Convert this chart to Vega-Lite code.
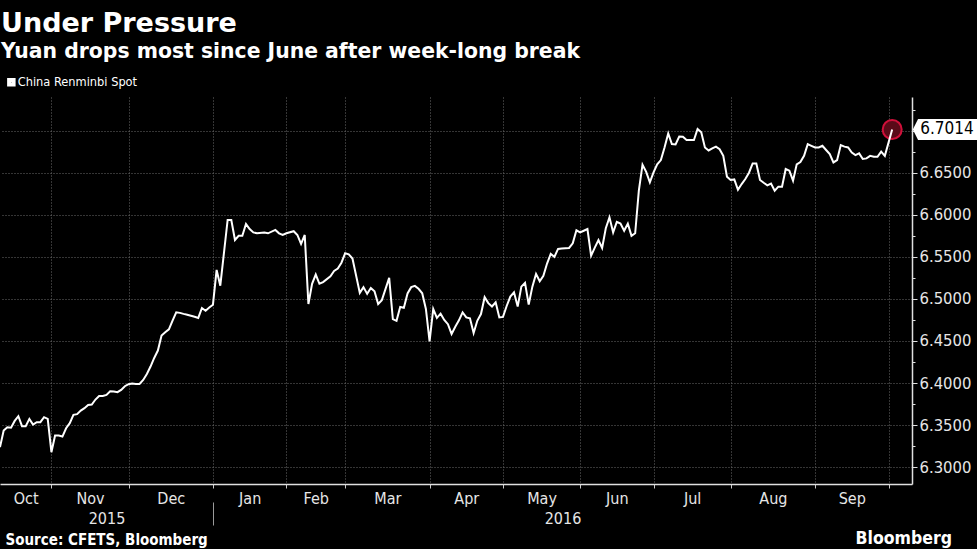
{
  "$schema": "https://vega.github.io/schema/vega-lite/v6.json",
  "width": 912,
  "height": 387,
  "autosize": {"type": "none"},
  "padding": {"left": 0, "top": 97, "right": 65, "bottom": 65},
  "background": "#000000",
  "config": {"view": {"stroke": null}, "font": "DejaVu Sans Condensed"},
  "title": {
    "text": "Under Pressure",
    "subtitle": "Yuan drops most since June after week-long break",
    "anchor": "start",
    "frame": "group",
    "font": "DejaVu Sans",
    "fontSize": 27,
    "fontWeight": "bold",
    "color": "#ffffff",
    "subtitleFont": "DejaVu Sans",
    "subtitleFontSize": 20.4,
    "subtitleFontWeight": "bold",
    "subtitleColor": "#ffffff",
    "subtitlePadding": 4,
    "offset": 13,
    "dx": 1
  },
  "datasets": {
    "cny": [
      {"d":0,"v":6.3238},{"d":1,"v":6.3435},{"d":2,"v":6.3475},{"d":3,"v":6.347},{"d":4,"v":6.355},{"d":5,"v":6.3606},{"d":6,"v":6.3487},{"d":7,"v":6.3487},{"d":8,"v":6.3574},{"d":9,"v":6.3507},
      {"d":10,"v":6.3535},{"d":11,"v":6.3535},{"d":12,"v":6.3594},{"d":13,"v":6.3574},{"d":14,"v":6.3178},{"d":15,"v":6.3376},{"d":16,"v":6.3376},{"d":17,"v":6.3364},{"d":18,"v":6.3463},{"d":19,"v":6.3523},
      {"d":20,"v":6.3622},{"d":21,"v":6.363},{"d":22,"v":6.3673},{"d":23,"v":6.3701},{"d":24,"v":6.374},{"d":25,"v":6.3744},{"d":26,"v":6.3804},{"d":27,"v":6.3847},{"d":28,"v":6.3847},{"d":29,"v":6.3859},
      {"d":30,"v":6.3903},{"d":31,"v":6.3899},{"d":32,"v":6.3891},{"d":33,"v":6.3919},{"d":34,"v":6.3962},{"d":35,"v":6.3986},{"d":36,"v":6.3994},{"d":37,"v":6.399},{"d":38,"v":6.399},{"d":39,"v":6.4037},
      {"d":40,"v":6.4108},{"d":41,"v":6.4196},{"d":42,"v":6.4298},{"d":43,"v":6.4386},{"d":44,"v":6.4564},{"d":45,"v":6.4603},{"d":46,"v":6.4639},{"d":47,"v":6.4742},{"d":48,"v":6.4841},{"d":49,"v":6.4834},
      {"d":50,"v":6.4822},{"d":51,"v":6.4812},{"d":52,"v":6.48},{"d":53,"v":6.4788},{"d":54,"v":6.4774},{"d":55,"v":6.4892},{"d":56,"v":6.486},{"d":57,"v":6.4897},{"d":58,"v":6.4931},{"d":59,"v":6.5344},
      {"d":60,"v":6.5157},{"d":62,"v":6.5938},{"d":63,"v":6.5938},{"d":64,"v":6.57},{"d":65,"v":6.575},{"d":66,"v":6.575},{"d":67,"v":6.589},{"d":68,"v":6.583},{"d":69,"v":6.579},
      {"d":70,"v":6.578},{"d":72,"v":6.579},{"d":73,"v":6.578},{"d":75,"v":6.582},{"d":76,"v":6.578},{"d":77,"v":6.576},{"d":78,"v":6.578},{"d":80,"v":6.5805},{"d":81,"v":6.576},{"d":82,"v":6.5653},
      {"d":83,"v":6.576},{"d":84,"v":6.494},{"d":85,"v":6.518},{"d":86,"v":6.529},{"d":87,"v":6.518},{"d":88,"v":6.52},{"d":90,"v":6.527},{"d":91,"v":6.5333},{"d":92,"v":6.536},{"d":93,"v":6.543},
      {"d":94,"v":6.5542},{"d":95,"v":6.553},{"d":96,"v":6.548},{"d":98,"v":6.5072},{"d":99,"v":6.514},{"d":100,"v":6.506},{"d":101,"v":6.513},{"d":102,"v":6.509},{"d":103,"v":6.494},{"d":104,"v":6.4985},
      {"d":106,"v":6.525},{"d":107,"v":6.476},{"d":108,"v":6.474},{"d":109,"v":6.4905},{"d":110,"v":6.4895},{"d":111,"v":6.5065},{"d":112,"v":6.514},{"d":113,"v":6.5155},{"d":114,"v":6.512},{"d":115,"v":6.5067},
      {"d":116,"v":6.488},{"d":117,"v":6.4496},{"d":118,"v":6.488},{"d":119,"v":6.4775},{"d":120,"v":6.4825},{"d":121,"v":6.475},{"d":122,"v":6.47},{"d":123,"v":6.4584},{"d":124,"v":6.467},{"d":125,"v":6.4745},
      {"d":126,"v":6.484},{"d":127,"v":6.478},{"d":128,"v":6.477},{"d":129,"v":6.4594},{"d":130,"v":6.474},{"d":131,"v":6.482},{"d":132,"v":6.502},{"d":133,"v":6.495},{"d":134,"v":6.491},{"d":135,"v":6.496},
      {"d":136,"v":6.478},{"d":137,"v":6.4786},{"d":138,"v":6.4916},{"d":139,"v":6.5027},{"d":140,"v":6.5078},{"d":141,"v":6.4909},{"d":142,"v":6.5146},{"d":143,"v":6.519},{"d":144,"v":6.4932},{"d":145,"v":6.5146},
      {"d":146,"v":6.5297},{"d":147,"v":6.521},{"d":148,"v":6.5275},{"d":149,"v":6.542},{"d":150,"v":6.5534},{"d":151,"v":6.55},{"d":152,"v":6.5594},{"d":153,"v":6.56},{"d":154,"v":6.5603},{"d":155,"v":6.5606},
      {"d":156,"v":6.566},{"d":157,"v":6.5815},{"d":158,"v":6.579},{"d":159,"v":6.581},{"d":160,"v":6.583},{"d":161,"v":6.5514},{"d":162,"v":6.561},{"d":163,"v":6.57},{"d":164,"v":6.5605},{"d":165,"v":6.584},
      {"d":166,"v":6.597},{"d":167,"v":6.579},{"d":168,"v":6.5915},{"d":169,"v":6.5895},{"d":170,"v":6.581},{"d":171,"v":6.5895},{"d":172,"v":6.575},{"d":173,"v":6.578},{"d":174,"v":6.6286},{"d":175,"v":6.6595},
      {"d":176,"v":6.651},{"d":177,"v":6.6385},{"d":178,"v":6.6505},{"d":179,"v":6.66},{"d":180,"v":6.665},{"d":181,"v":6.68},{"d":182,"v":6.6967},{"d":183,"v":6.684},{"d":184,"v":6.6835},{"d":185,"v":6.693},
      {"d":186,"v":6.6927},{"d":187,"v":6.689},{"d":188,"v":6.6888},{"d":189,"v":6.6888},{"d":190,"v":6.7019},{"d":191,"v":6.698},{"d":192,"v":6.68},{"d":193,"v":6.6765},{"d":194,"v":6.679},{"d":195,"v":6.681},
      {"d":196,"v":6.678},{"d":197,"v":6.67},{"d":198,"v":6.6453},{"d":199,"v":6.6413},{"d":200,"v":6.642},{"d":201,"v":6.6298},{"d":202,"v":6.6365},{"d":203,"v":6.6425},{"d":204,"v":6.65},{"d":205,"v":6.661},
      {"d":206,"v":6.661},{"d":207,"v":6.6413},{"d":208,"v":6.638},{"d":209,"v":6.635},{"d":210,"v":6.637},{"d":211,"v":6.6286},{"d":212,"v":6.6334},{"d":213,"v":6.6334},{"d":214,"v":6.6544},{"d":215,"v":6.6524},
      {"d":216,"v":6.6405},{"d":217,"v":6.66},{"d":218,"v":6.6626},{"d":219,"v":6.6702},{"d":220,"v":6.684},{"d":221,"v":6.682},{"d":222,"v":6.68},{"d":223,"v":6.68},{"d":224,"v":6.682},{"d":225,"v":6.677},
      {"d":226,"v":6.6722},{"d":227,"v":6.6622},{"d":228,"v":6.665},{"d":229,"v":6.6829},{"d":230,"v":6.681},{"d":231,"v":6.68},{"d":232,"v":6.674},{"d":233,"v":6.671},{"d":234,"v":6.673},{"d":235,"v":6.6663},
      {"d":236,"v":6.667},{"d":237,"v":6.67},{"d":238,"v":6.669},{"d":239,"v":6.669},{"d":240,"v":6.675},{"d":241,"v":6.67},{"d":243,"v":6.7014}
    ]
  },
  "data": {"name": "cny"},
  "encoding": {
    "y": {
      "field": "v",
      "type": "quantitative",
      "scale": {"domain": [6.28, 6.74], "zero": false, "nice": false},
      "axis": {
        "orient": "right",
        "values": [6.3, 6.325, 6.35, 6.375, 6.4, 6.425, 6.45, 6.475, 6.5, 6.525, 6.55, 6.575, 6.6, 6.625, 6.65, 6.675, 6.7, 6.725],
        "labelExpr": "abs(datum.value * 20 - round(datum.value * 20)) < 0.01 && datum.value < 6.69 ? format(datum.value, '.4f') : ''",
        "tickSize": {"condition": {"test": "abs(datum.value * 20 - round(datum.value * 20)) > 0.01", "value": 3}, "value": 5},
        "gridOpacity": {"condition": {"test": "abs(datum.value * 20 - round(datum.value * 20)) > 0.01", "value": 0}, "value": 1},
        "grid": true,
        "gridColor": "#6a6a6a",
        "gridDash": [1, 2],
        "gridWidth": 1,
        "tickColor": "#e0e0e0",
        "domainColor": "#e0e0e0",
        "domainWidth": 1.5,
        "labelFont": "DejaVu Sans Condensed",
        "labelFontSize": 16.5,
        "labelColor": "#e6e6e6",
        "labelPadding": 2,
        "labelOverlap": false,
        "labelFlush": false,
        "title": "Bloomberg",
        "titleAngle": 0,
        "titleX": -57,
        "titleY": 441,
        "titleAlign": "left",
        "titleBaseline": "middle",
        "titleFont": "DejaVu Sans Condensed",
        "titleFontWeight": "bold",
        "titleFontSize": 17.5,
        "titleColor": "#ffffff"
      }
    }
  },
  "layer": [
    {
      "transform": [{"filter": "datum.d == 243"}],
      "mark": {"type": "point", "shape": "circle", "filled": true, "size": 361, "fill": "#5a0a18", "fillOpacity": 1, "stroke": "#d0103a", "strokeWidth": 2, "opacity": 1},
      "encoding": {
        "x": {
          "field": "d",
          "type": "quantitative",
          "scale": {"domain": [0, 248.4], "nice": false, "zero": false},
          "axis": {
            "orient": "bottom",
            "values": [14, 35, 58, 78, 94, 117, 137, 158, 178, 199, 222, 242],
            "labels": false,
            "title": null,
            "grid": true,
            "gridColor": "#6a6a6a",
            "gridDash": [1, 2],
            "gridWidth": 1,
            "ticks": true,
            "tickSize": 4,
            "tickColor": "#cccccc",
            "domain": true,
            "domainColor": "#e0e0e0",
            "domainWidth": 1.5
          }
        }
      }
    },
    {
      "mark": {"type": "line", "strokeWidth": 2},
      "encoding": {
        "x": {
          "field": "d",
          "type": "quantitative",
          "scale": {"domain": [0, 248.4], "nice": false, "zero": false},
          "axis": {
            "orient": "bottom",
            "values": [7, 24.5, 46.5, 68, 86, 105.5, 127, 147.5, 168, 188.5, 210.5, 232],
            "labelExpr": "['Oct','Nov','Dec','Jan','Feb','Mar','Apr','May','Jun','Jul','Aug','Sep'][indexof([7, 24.5, 46.5, 68, 86, 105.5, 127, 147.5, 168, 188.5, 210.5, 232], datum.value)]",
            "grid": false,
            "ticks": false,
            "domain": false,
            "labelPadding": 6,
            "labelFont": "DejaVu Sans Condensed",
            "labelFontSize": 16,
            "labelColor": "#e6e6e6",
            "labelBaseline": "top",
            "labelFlush": false,
            "labelOverlap": false,
            "title": null
          }
        },
        "color": {
          "datum": "China Renminbi Spot",
          "type": "nominal",
          "scale": {"range": ["#ffffff"]},
          "legend": {
            "orient": "none",
            "legendX": 5,
            "legendY": -21,
            "title": null,
            "symbolType": "square",
            "symbolSize": 20,
            "symbolStrokeWidth": 4,
            "labelColor": "#ffffff",
            "labelFont": "DejaVu Sans Condensed",
            "labelFontSize": 12.7,
            "labelOffset": 0
          }
        }
      }
    },
    {
      "transform": [{"filter": "datum.d == 243"}],
      "mark": {"type": "point", "shape": "M0.644,0 L0.81,-0.33 L2.75,-0.33 L2.75,0.33 L0.81,0.33 Z", "filled": true, "size": 4096, "fill": "#ffffff", "fillOpacity": 1, "strokeWidth": 0, "opacity": 1},
      "encoding": {
        "x": {
          "field": "d",
          "type": "quantitative",
          "scale": {"domain": [0, 248.4], "nice": false, "zero": false},
          "axis": {
            "orient": "bottom",
            "values": [29, 153.2],
            "labelExpr": "datum.value < 58 ? '2015' : '2016'",
            "grid": false,
            "ticks": false,
            "domain": false,
            "labelPadding": 26,
            "labelFont": "DejaVu Sans Condensed",
            "labelFontSize": 16,
            "labelColor": "#e6e6e6",
            "labelBaseline": "top",
            "labelFlush": false,
            "labelOverlap": false,
            "title": null
          }
        }
      }
    },
    {
      "transform": [{"filter": "datum.d == 243"}],
      "mark": {"type": "text", "align": "left", "baseline": "middle", "dx": 28, "font": "DejaVu Sans Condensed", "fontSize": 17, "color": "#000000"},
      "encoding": {
        "x": {
          "field": "d",
          "type": "quantitative",
          "scale": {"domain": [0, 248.4], "nice": false, "zero": false},
          "axis": {
            "orient": "bottom",
            "values": [58],
            "offset": 18,
            "labels": false,
            "grid": false,
            "domain": false,
            "ticks": true,
            "tickSize": 23,
            "tickColor": "#9a9a9a",
            "tickWidth": 1,
            "title": "Source: CFETS, Bloomberg",
            "titleX": 5,
            "titleY": 37,
            "titleAlign": "left",
            "titleAnchor": "start",
            "titleBaseline": "middle",
            "titleFont": "DejaVu Sans Condensed",
            "titleFontWeight": "bold",
            "titleFontSize": 15,
            "titleColor": "#ffffff"
          }
        },
        "text": {"field": "v", "format": ".4f"}
      }
    }
  ],
  "resolve": {"axis": {"x": "independent"}}
}
